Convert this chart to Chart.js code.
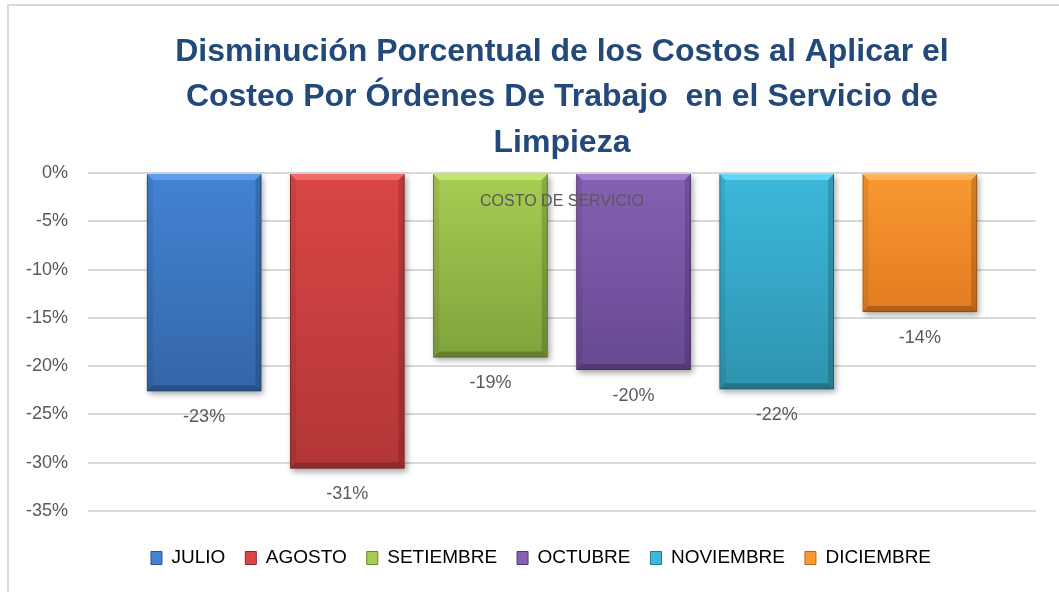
<!DOCTYPE html>
<html>
<head>
<meta charset="utf-8">
<script src="https://cdn.jsdelivr.net/npm/chart.js@4.4.1/dist/chart.umd.min.js"></script>
<style>
  html, body { margin: 0; padding: 0; background: #fff; }
  #contenedor { width: 1059px; height: 592px; position: relative; }
</style>
</head>
<body>
<div id="contenedor"><canvas id="grafico"></canvas></div>
<script>
// Datos del gráfico
const categorias = ['COSTO DE SERVICIO'];
const meses = ['JULIO', 'AGOSTO', 'SETIEMBRE', 'OCTUBRE', 'NOVIEMBRE', 'DICIEMBRE'];
const valores = [-0.226, -0.306, -0.191, -0.204, -0.224, -0.144];
const ticksY = [0, -0.05, -0.10, -0.15, -0.20, -0.25, -0.30, -0.35];

// Colores: [brillo superior, arriba, abajo, borde]
const colores = [
  ['#5e9de8', '#4383d5', '#3466a8', '#2b5590'],
  ['#f06c6c', '#da4646', '#b33636', '#8f2a2a'],
  ['#c2e56e', '#a7cd53', '#80a33c', '#66832e'],
  ['#a27fcf', '#8761b4', '#684891', '#533a75'],
  ['#62d6f2', '#3cb9dc', '#2e93ae', '#23768c'],
  ['#ffb259', '#f99930', '#e37c22', '#b9641a']
];

const gris = '#595959';
const fuente = '"Liberation Sans", Arial, sans-serif';

const pct = v => Math.round(v * 100) + '%';

function degradado(ctx, i) {
  const chart = ctx.chart;
  if (!chart.chartArea || !chart.scales.y) return colores[i][1];
  const y = chart.scales.y;
  const g = chart.ctx.createLinearGradient(0, y.getPixelForValue(0), 0, y.getPixelForValue(valores[i]));
  g.addColorStop(0, colores[i][1]);
  g.addColorStop(1, colores[i][2]);
  return g;
}

// Marco, sombra, bisel y textos
const decoracion = {
  id: 'decoracion',
  beforeDraw(chart) {
    const c = chart.ctx;
    c.save();
    c.fillStyle = '#fff';
    c.fillRect(0, 0, chart.width, chart.height);
    c.strokeStyle = '#d9d9d9';
    c.lineWidth = 2;
    c.beginPath();
    c.moveTo(8, chart.height);
    c.lineTo(8, 5);
    c.lineTo(chart.width, 5);
    c.stroke();
    c.restore();
  },
  beforeDatasetsDraw(chart) {
    const c = chart.ctx;
    c.save();
    chart.data.datasets.forEach((ds, i) => {
      const b = chart.getDatasetMeta(i).data[0];
      if (!b) return;
      c.shadowColor = 'rgba(0,0,0,0.35)';
      c.shadowBlur = 6;
      c.shadowOffsetX = 2;
      c.shadowOffsetY = 3;
      c.fillStyle = colores[i][2];
      c.fillRect(b.x - b.width / 2, b.base, b.width, b.y - b.base);
    });
    c.restore();
  },
  afterDatasetsDraw(chart) {
    const c = chart.ctx;
    const x = chart.scales.x, y = chart.scales.y;
    c.save();
    chart.data.datasets.forEach((ds, i) => {
      const b = chart.getDatasetMeta(i).data[0];
      if (!b) return;
      const L = b.x - b.width / 2, R = b.x + b.width / 2, T = b.base, B = b.y, e = 6;
      const poly = (pts, color) => {
        c.beginPath();
        c.moveTo(pts[0][0], pts[0][1]);
        pts.slice(1).forEach(p => c.lineTo(p[0], p[1]));
        c.closePath();
        c.fillStyle = color;
        c.fill();
      };
      poly([[L, T], [R, T], [R - e, T + e], [L + e, T + e]], colores[i][0]);
      poly([[R, T], [R, B], [R - e, B - e], [R - e, T + e]], 'rgba(0,0,0,0.16)');
      poly([[L, T], [L + e, T + e], [L + e, B - e], [L, B]], 'rgba(0,0,0,0.07)');
      poly([[L, B], [L + e, B - e], [R - e, B - e], [R, B]], 'rgba(0,0,0,0.22)');

      c.fillStyle = gris;
      c.font = '18px ' + fuente;
      c.textAlign = 'center';
      c.textBaseline = 'middle';
      c.fillText(pct(valores[i]), b.x, B + 26);
    });
    c.fillStyle = gris;
    c.font = '16px ' + fuente;
    c.textAlign = 'center';
    c.textBaseline = 'middle';
    c.fillText(categorias[0], x.getPixelForValue(0), y.getPixelForValue(0) + 29);
    c.restore();
  }
};

const datasets = meses.map((mes, i) => ({
  label: mes,
  data: [valores[i]],
  backgroundColor: ctx => degradado(ctx, i),
  borderColor: colores[i][3],
  borderWidth: 1,
  categoryPercentage: 0.906,
  barPercentage: 0.8
}));

new Chart(document.getElementById('grafico'), {
  type: 'bar',
  data: { labels: categorias, datasets },
  plugins: [decoracion],
  options: {
    responsive: true,
    maintainAspectRatio: false,
    animation: false,
    layout: { padding: { left: 23, right: 0, top: 5, bottom: 14.5 } },
    plugins: {
      tooltip: { enabled: false },
      title: {
        display: true,
        fullSize: false,
        text: [
          'Disminución Porcentual de los Costos al Aplicar el',
          'Costeo Por Órdenes De Trabajo  en el Servicio de',
          'Limpieza'
        ],
        color: '#23497a',
        font: { family: fuente, size: 32, weight: 'bold', lineHeight: 1.422 },
        padding: { top: 24.25, bottom: 7.25 }
      },
      legend: {
        position: 'bottom',
        labels: {
          color: gris,
          font: { family: fuente, size: 19 },
          boxWidth: 11,
          boxHeight: 13,
          padding: 20,
          generateLabels: chart => meses.map((m, i) => ({
            text: m,
            fillStyle: colores[i][1],
            strokeStyle: colores[i][3],
            lineWidth: 1,
            datasetIndex: i,
            hidden: false
          }))
        }
      }
    },
    scales: {
      x: {
        display: true,
        grid: { display: false },
        border: { display: false },
        ticks: { display: false },
        afterFit: s => { s.height = 17.5; }
      },
      y: {
        min: -0.35,
        max: 0,
        afterBuildTicks: s => { s.ticks = ticksY.map(v => ({ value: v })); },
        ticks: {
          callback: v => pct(v),
          color: gris,
          font: { family: fuente, size: 18 },
          padding: 20
        },
        grid: { color: '#d9d9d9', lineWidth: 2, drawTicks: false },
        border: { display: false },
        afterFit: s => { s.width = 65; }
      },
      y2: {
        position: 'right',
        display: true,
        grid: { display: false },
        border: { display: false },
        ticks: { display: false },
        afterFit: s => { s.width = 23; }
      }
    }
  }
});
</script>
</body>
</html>
